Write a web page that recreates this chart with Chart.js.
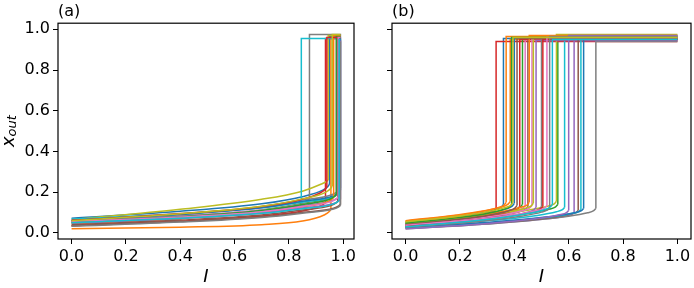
<!DOCTYPE html>
<html>
<head>
<meta charset="utf-8">
<script src="https://cdn.jsdelivr.net/npm/chart.js@4.4.0/dist/chart.umd.min.js"></script>
<style>
  body { margin: 0; background: #fff; }
  #wrap { position: relative; width: 694px; height: 288px; }
  canvas { position: absolute; top: 0; }
</style>
</head>
<body>
<div id="wrap">
  <canvas id="panelA" width="360" height="288" style="left:0"></canvas>
  <canvas id="panelB" width="334" height="288" style="left:360px"></canvas>
</div>
<script>
const palette = ['#1f77b4', '#ff7f0e', '#2ca02c', '#d62728', '#9467bd',
                 '#8c564b', '#e377c2', '#7f7f7f', '#bcbd22', '#17becf'];
const xTicks = [0, 0.2, 0.4, 0.6, 0.8, 1.0];
const yTicks = [0, 0.2, 0.4, 0.6, 0.8, 1.0];

// (a) lower branch of each sweep, [I, x_out]; last point is where it jumps up
const lowA = [
  [[0, .072], [.4, .106], [.7, .143], [.85, .178], [.925, .21], [.944, .228], [.95, .24]],
  [[0, .02], [.4, .028], [.7, .04], [.85, .058], [.93, .088], [.949, .105], [.955, .118]],
  [[0, .05], [.4, .08], [.7, .113], [.85, .145], [.96, .173], [.979, .19], [.985, .2]],
  [[0, .035], [.4, .058], [.7, .083], [.85, .107], [.91, .129], [.929, .142], [.935, .15]],
  [[0, .055], [.4, .08], [.7, .108], [.85, .134], [.96, .158], [.979, .171], [.985, .18]],
  [[0, .035], [.4, .056], [.7, .079], [.85, .101], [.965, .121], [.984, .133], [.99, .14]],
  [[0, .058], [.4, .084], [.7, .113], [.85, .141], [.95, .166], [.969, .181], [.975, .19]],
  [[0, .06], [.4, .092], [.7, .127], [.85, .161], [.965, .191], [.984, .209], [.99, .22]],
  [[0, .065], [.4, .116], [.7, .165], [.85, .205], [.92, .24], [.939, .253], [.945, .26]],
  [[0, .068], [.4, .094], [.7, .123], [.85, .151], [.96, .176], [.979, .191], [.985, .2]],
  [[0, .06], [.4, .09], [.7, .123], [.85, .155], [.965, .183], [.984, .2], [.99, .21]],
  [[0, .045], [.4, .071], [.7, .1], [.85, .127], [.94, .152], [.959, .166], [.965, .175]],
  [[0, .052], [.4, .08], [.7, .11], [.85, .139], [.95, .165], [.969, .18], [.975, .19]],
  [[0, .062], [.4, .095], [.7, .13], [.85, .165], [.915, .196], [.934, .214], [.94, .225]],
  [[0, .048], [.4, .071], [.7, .097], [.85, .122], [.965, .144], [.984, .157], [.99, .165]],
  [[0, .04], [.4, .063], [.7, .088], [.85, .112], [.955, .134], [.974, .147], [.98, .155]],
  [[0, .056], [.4, .078], [.7, .104], [.85, .13], [.958, .155], [.976, .168], [.982, .177]],
  [[0, .033], [.4, .053], [.7, .076], [.85, .097], [.965, .117], [.984, .128], [.99, .135]],
  [[0, .06], [.4, .094], [.7, .131], [.85, .167], [.935, .199], [.954, .218], [.96, .23]],
  [[0, .05], [.4, .072], [.7, .096], [.85, .119], [.96, .14], [.979, .152], [.985, .16]]
];
const topA = [.965, .955, .97, .955, .955, .95, .96, .975, .97, .955,
              .96, .97, .965, .96, .945, .955, .96, .94, .975, .95];
// return sweep drops back down early for two runs: [I, x_out at the bottom]
const dropA = [null, null, null, null, null, null, null, [.876, .168], null, [.846, .15],
               null, null, null, null, null, null, null, null, null, null];
const endA = 0.99;

// (b)
const lowB = [
  [[0, .05], [.18, .076], [.26, .093], [.33, .114], [.352, .127], [.36, .14]],
  [[0, .06], [.19, .088], [.285, .107], [.355, .128], [.377, .141], [.385, .155]],
  [[0, .04], [.28, .069], [.46, .098], [.53, .117], [.552, .128], [.56, .14]],
  [[0, .045], [.165, .067], [.233, .079], [.303, .098], [.325, .108], [.333, .12]],
  [[0, .022], [.31, .045], [.52, .069], [.59, .083], [.612, .091], [.62, .1]],
  [[0, .035], [.225, .063], [.35, .085], [.42, .105], [.442, .117], [.45, .13]],
  [[0, .042], [.22, .069], [.34, .091], [.41, .111], [.432, .122], [.44, .135]],
  [[0, .02], [.35, .049], [.6, .082], [.67, .099], [.692, .109], [.7, .12]],
  [[0, .055], [.28, .084], [.455, .113], [.525, .132], [.547, .143], [.555, .155]],
  [[0, .03], [.29, .058], [.485, .086], [.555, .104], [.577, .114], [.585, .125]],
  [[0, .045], [.2, .074], [.3, .095], [.37, .118], [.392, .131], [.4, .145]],
  [[0, .058], [.185, .085], [.27, .102], [.34, .124], [.362, .136], [.37, .15]],
  [[0, .045], [.215, .073], [.33, .094], [.4, .115], [.422, .127], [.43, .14]],
  [[0, .04], [.21, .066], [.32, .086], [.39, .106], [.412, .118], [.42, .13]],
  [[0, .03], [.24, .058], [.38, .082], [.45, .101], [.472, .113], [.48, .125]],
  [[0, .025], [.32, .05], [.535, .076], [.605, .092], [.627, .1], [.635, .11]],
  [[0, .04], [.23, .068], [.365, .091], [.435, .111], [.457, .123], [.465, .135]],
  [[0, .03], [.25, .059], [.4, .085], [.47, .106], [.492, .117], [.5, .13]],
  [[0, .05], [.235, .078], [.37, .101], [.44, .121], [.462, .133], [.47, .145]],
  [[0, .025], [.32, .051], [.545, .08], [.615, .096], [.637, .105], [.645, .115]],
  [[0, .028], [.33, .055], [.555, .084], [.625, .1], [.647, .11], [.655, .12]],
  [[0, .055], [.23, .083], [.355, .105], [.425, .126], [.447, .137], [.455, .15]],
  [[0, .048], [.195, .075], [.29, .093], [.36, .115], [.382, .127], [.39, .14]],
  [[0, .035], [.25, .063], [.405, .088], [.475, .107], [.497, .118], [.505, .13]],
  [[0, .02], [.3, .046], [.5, .073], [.57, .09], [.592, .1], [.6, .11]],
  [[0, .04], [.205, .068], [.31, .088], [.38, .109], [.402, .122], [.41, .135]],
  [[0, .038], [.26, .066], [.42, .093], [.49, .112], [.512, .123], [.52, .135]],
  [[0, .028], [.265, .056], [.43, .083], [.5, .102], [.522, .113], [.53, .125]],
  [[0, .055], [.2, .083], [.295, .102], [.365, .124], [.387, .136], [.395, .15]],
  [[0, .03], [.27, .062], [.44, .093], [.51, .114], [.532, .127], [.54, .14]]
];
const topB = [.955, .95, .97, .94, .945, .955, .95, .94, .975, .95,
              .96, .965, .955, .95, .945, .96, .955, .96, .96, .955,
              .965, .97, .96, .95, .97, .955, .96, .965, .96, .95];
const endB = 1.0;

Chart.defaults.font.family = '"DejaVu Sans", sans-serif';
Chart.defaults.color = '#000';

function buildDatasets(low, top, end, drop) {
  const sets = [];
  low.forEach((pts, i) => {
    const color = palette[i % palette.length];
    const knee = pts[pts.length - 1];
    const upper = [knee, [knee[0], top[i]], [end, top[i]]];
    if (drop && drop[i]) upper.push([drop[i][0], top[i]], drop[i]);
    sets.push({ data: pts, borderColor: color, cubicInterpolationMode: 'monotone', tension: 0.4 });
    sets.push({ data: upper, borderColor: color, tension: 0 });
  });
  // matplotlib draws later lines on top; chart.js draws first dataset on top
  return sets.reverse();
}

// black box around the axes
const frame = {
  id: 'frame',
  afterDraw(chart) {
    const { ctx, chartArea: a } = chart;
    ctx.save();
    ctx.strokeStyle = '#000';
    ctx.lineWidth = 1.2;
    ctx.strokeRect(a.left, a.top, a.right - a.left, a.bottom - a.top);
    ctx.restore();
  }
};

// y label x_out with subscript
const yLabel = {
  id: 'yLabel',
  afterDraw(chart) {
    const { ctx, chartArea: a } = chart;
    const big = 'italic 18px "DejaVu Sans"';
    const small = 'italic 13px "DejaVu Sans"';
    ctx.save();
    ctx.translate(9, (a.top + a.bottom) / 2);
    ctx.rotate(-Math.PI / 2);
    ctx.fillStyle = '#000';
    ctx.textBaseline = 'middle';
    ctx.font = big;
    const w1 = ctx.measureText('x').width;
    ctx.font = small;
    const w2 = ctx.measureText('out').width;
    const x0 = -(w1 + w2) / 2;
    ctx.font = big;
    ctx.fillText('x', x0, 0);
    ctx.font = small;
    ctx.fillText('out', x0 + w1, 4);
    ctx.restore();
  }
};

function makeChart(id, label, datasets, xMax, yWidth, showYLabels, padRight, extra) {
  return new Chart(document.getElementById(id), {
    type: 'line',
    data: { datasets: datasets },
    options: {
      responsive: false,
      animation: false,
      devicePixelRatio: 1,
      layout: { padding: { right: padRight } },
      elements: { point: { radius: 0 }, line: { borderWidth: 1.5 } },
      plugins: {
        legend: { display: false },
        tooltip: { enabled: false },
        title: {
          display: true, text: label, align: 'start', fullSize: false,
          font: { size: 16, weight: 'normal' }, padding: { top: 2, bottom: 2 }
        }
      },
      scales: {
        x: {
          type: 'linear', min: -0.05, max: xMax,
          afterBuildTicks: s => { s.ticks = xTicks.map(v => ({ value: v })); },
          afterFit: s => { s.height = 49; },
          ticks: { callback: v => v.toFixed(1), font: { size: 16 }, padding: 3, maxRotation: 0 },
          grid: { drawOnChartArea: false, tickLength: 5, tickColor: '#000' },
          border: { display: false },
          title: { display: true, text: 'I', font: { size: 18, style: 'italic' }, padding: 0 }
        },
        y: {
          type: 'linear', min: -0.03, max: 1.03,
          afterBuildTicks: s => { s.ticks = yTicks.map(v => ({ value: v })); },
          afterFit: s => { s.width = yWidth; },
          ticks: { display: showYLabels, callback: v => v.toFixed(1), font: { size: 16 }, padding: 3 },
          grid: { drawOnChartArea: false, tickLength: 5, tickColor: '#000' },
          border: { display: false }
        }
      }
    },
    plugins: extra
  });
}

makeChart('panelA', '(a)', buildDatasets(lowA, topA, endA, dropA), 1.04, 58, true, 6, [frame, yLabel]);
makeChart('panelB', '(b)', buildDatasets(lowB, topB, endB, null), 1.05, 32, false, 3, [frame]);
</script>
</body>
</html>
